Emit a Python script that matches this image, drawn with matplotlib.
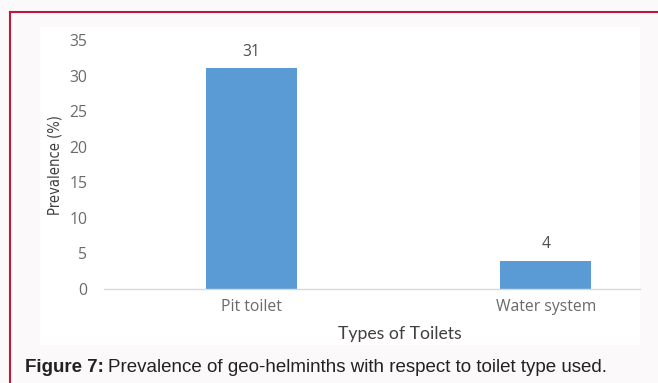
import matplotlib
matplotlib.use("Agg")
import matplotlib.pyplot as plt
from matplotlib.patches import Rectangle
from matplotlib.lines import Line2D

categories = ["Pit toilet", "Water system"]
values = [31, 4]
yticks = [0, 5, 10, 15, 20, 25, 30, 35]

W, H = 658, 383
fig = plt.figure(figsize=(W / 100, H / 100), dpi=100)
fig.patch.set_facecolor("#fbf9fa")

def fx(px):
    return px / W

def fy(py):
    return 1 - py / H

# white chart panel
fig.patches.append(Rectangle((fx(40), fy(345)), fx(600), (345 - 27) / H,
                             transform=fig.transFigure, facecolor="white",
                             edgecolor="none", zorder=-5))
# red frame
red = "#c0173a"
fig.lines.append(Line2D([fx(10), fx(10)], [fy(12), 0], transform=fig.transFigure,
                        color=red, lw=1.5, zorder=-4))
fig.lines.append(Line2D([fx(10), 1], [fy(12), fy(12)], transform=fig.transFigure,
                        color=red, lw=1.5, zorder=-4))

ax = fig.add_axes([fx(104), fy(289), fx(640 - 104), (289 - 40) / H])
ax.set_zorder(5)
ax.set_facecolor("none")
x = list(range(len(categories)))
bars = ax.bar(x, values, width=0.31, color="#5b9bd5", zorder=2)
ax.set_ylim(0, 35)
ax.set_xlim(-0.5, 1.32)
ax.set_yticks(yticks)
ax.set_xticks(x)
ax.set_xticklabels(categories)
for s in ["top", "right", "left"]:
    ax.spines[s].set_visible(False)
ax.spines["bottom"].set_color("#d9d9d9")
ax.spines["bottom"].set_linewidth(1)
ax.tick_params(axis="both", length=0, colors="#6a6a6a", labelsize=11.3)
ax.tick_params(axis="y", pad=12)
ax.tick_params(axis="x", pad=7)
for lab in ax.get_xticklabels() + ax.get_yticklabels():
    lab.set_fontfamily("Open Sans")
for xi, v in zip(x, values):
    ax.annotate(str(v), (xi, v), xytext=(0, 6), textcoords="offset points",
                ha="center", va="bottom", fontsize=11.3, color="#505050",
                family="Open Sans")

fig.text(fx(55), fy(165), "Prevalence (%)", rotation=90, ha="center", va="center",
         fontsize=10.5, color="#404040", family="Liberation Sans Narrow", stretch="condensed")
fig.text(fx(400), fy(334), "Types of Toilets", ha="center", va="center",
         fontsize=12.7, color="#404040", family="Lato")

t1 = fig.text(fx(25), fy(368), "Figure 7:", ha="left", va="center",
              fontsize=13.5, fontweight="bold", color="#222222", family="Liberation Sans")
fig.canvas.draw()
bb = t1.get_window_extent()
fig.text(bb.x1 / W + 0.006, fy(368), "Prevalence of geo-helminths with respect to toilet type used.",
         ha="left", va="center", fontsize=13.5, color="#222222", family="Liberation Sans")

fig.savefig("out.png", dpi=100, facecolor=fig.get_facecolor())
